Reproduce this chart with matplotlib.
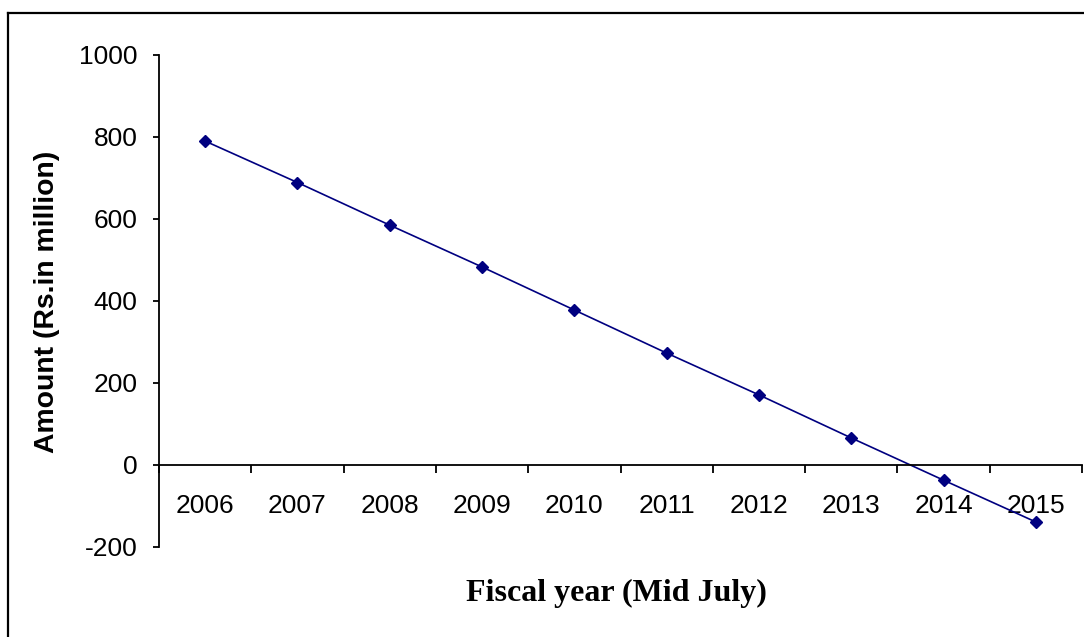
import matplotlib.pyplot as plt
from matplotlib.lines import Line2D

plt.rcParams["axes.unicode_minus"] = False

# 财年及金额（百万卢比）
years = ["2006", "2007", "2008", "2009", "2010", "2011", "2012", "2013", "2014", "2015"]
amount = [790, 689, 585, 483, 378, 273, 171, 66, -37, -139]

W, H = 1084, 637
fig = plt.figure(figsize=(W / 100, H / 100), dpi=100)

# 坐标区位置
ax = fig.add_axes([159 / W, 1 - 547 / H, (1082 - 159) / W, (547 - 55) / H])

x = list(range(len(years)))
ax.plot(x, amount, color="#000080", lw=1.2, marker="D", markersize=6.5,
        markerfacecolor="#000080", markeredgecolor="#000080")

ax.set_xlim(-0.5, len(years) - 0.5)
ax.set_ylim(-200, 1000)
ax.set_yticks(range(-200, 1001, 200))

# x轴放在0处，刻度在类别之间
ax.spines["bottom"].set_position(("data", 0))
ax.spines["top"].set_visible(False)
ax.spines["right"].set_visible(False)
for s in ["bottom", "left"]:
    ax.spines[s].set_linewidth(1.3)

ax.set_xticks([i - 0.5 for i in range(len(years) + 1)])
ax.set_xticklabels([])
ax.set_xticks(x, minor=True)
ax.set_xticklabels(years, minor=True, fontsize=19, family="Liberation Sans")
ax.tick_params(axis="x", which="major", direction="out", length=6, width=1.3)
ax.tick_params(axis="x", which="minor", length=0, pad=21)
ax.tick_params(axis="y", direction="out", length=4.5, width=1.3, pad=11)
for lab in ax.get_yticklabels():
    lab.set_fontsize(19)
    lab.set_family("Liberation Sans")

fig.text(47 / W, 1 - 302 / H, "Amount (Rs.in million)", rotation=90,
         ha="center", va="center", fontsize=20.4, fontweight="bold",
         family="Liberation Sans")
fig.text(616 / W, 1 - 593 / H, "Fiscal year (Mid July)", ha="center",
         va="center", fontsize=23, fontweight="bold", family="Liberation Serif")

# 外边框
fig.add_artist(Line2D([8 / W, 1], [1 - 13 / H, 1 - 13 / H], color="black", lw=1.6))
fig.add_artist(Line2D([8 / W, 8 / W], [0, 1 - 13 / H], color="black", lw=1.6))

plt.savefig("out.png", dpi=100)
